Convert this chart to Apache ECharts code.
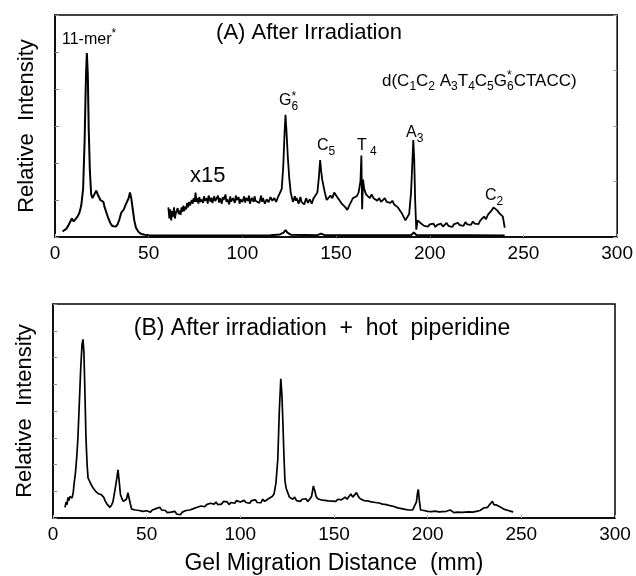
<!DOCTYPE html>
<html>
<head>
<meta charset="utf-8">
<script src="https://cdn.jsdelivr.net/npm/echarts@6/dist/echarts.min.js"></script>
<style>
  html, body { margin: 0; padding: 0; background: #fff; }
  #chart { width: 636px; height: 576px; }
</style>
</head>
<body>
<div id="chart"></div>
<script>
// x axis ticks (mm)
const xTicks = [0, 50, 100, 150, 200, 250, 300]

// (A) after irradiation, full scale trace [mm, intensity]
const traceA = [
  [4,0.15],[5,0.2],[6,0.22],[7,0.3],[8,0.4],[9,0.5],[10,0.42],[11,0.45],[12,0.55],[13,0.65],
  [14,0.85],[15,1.3],[15.8,2.6],[16.5,4.3],[17,4.97],[17.5,4.4],[18,2.9],[18.6,1.8],[19.3,1.15],
  [20,1.05],[21,1.1],[22,1.25],[22.8,1.15],[23.5,1.2],[24.2,1.0],[25,1.05],[25.8,0.95],[26.5,0.8],
  [27.5,0.65],[28.5,0.5],[29.5,0.38],[30.5,0.3],[31.5,0.27],[32.5,0.28],[33.5,0.35],[34.5,0.5],
  [35.3,0.65],[36,0.6],[36.8,0.75],[37.5,0.85],[38.5,0.9],[39.3,1.05],[40,1.2],[40.7,1.05],
  [41.5,0.75],[42.3,0.45],[43.2,0.25],[44.5,0.14],[46,0.08],[48,0.06],[50,0.05],[60,0.04],
  [80,0.04],[100,0.04],[115,0.05],[120,0.07],[122,0.12],[123,0.19],[124,0.12],[126,0.06],
  [140,0.05],[142,0.09],[144,0.05],[163,0.05],[164,0.08],[165,0.05],[190,0.05],[191.5,0.12],
  [193,0.05],[220,0.05],[240,0.04]
]

// (A) x15 expanded trace
const traceA15 = [
  [60.5,0.8],[61,0.5],[61.5,0.75],[62,0.45],[62.5,0.7],[63,0.55],[63.5,0.8],[64,0.5],[64.5,0.65],
  [65,0.6],[65.5,0.78],[66,0.62],[66.5,0.72],[67,0.6],[67.5,0.8],[68,0.68],[68.5,0.85],[69,0.7],
  [69.5,0.82],[70,0.75],[70.5,0.92],[71,0.8],[71.5,0.95],[72,0.85],[72.5,0.88],[73,1.0],[73.5,0.9],
  [74,1.05],[74.5,0.95],[75,1.2],[75.5,0.95],[76,1.05],[76.5,0.9],[77,1.08],[77.5,0.95],[78,1.02],
  [79,0.92],[79.5,1.1],[80,0.98],[81,1.05],[81.5,0.9],[82,1.12],[83,0.95],[83.5,1.06],[84,0.92],
  [85,1.1],[85.5,0.97],[86,1.0],[87,1.12],[87.5,0.93],[88,1.05],[89,0.9],[89.5,1.08],[90,1.0],
  [91,1.15],[91.5,0.95],[92,1.02],[93,0.88],[93.5,1.1],[94,0.96],[95,1.05],[96,0.92],[96.5,1.12],
  [97,1.0],[98,1.08],[98.5,0.9],[99,1.02],[100,0.95],[101,1.1],[101.5,0.93],[102,1.05],[103,0.98],
  [103.5,1.12],[104,0.9],[105,1.06],[106,0.95],[106.5,1.1],[107,0.98],[108,1.0],[109,0.92],
  [110,1.12],[110.5,0.95],[111,1.05],[112,0.9],[113,1.02],[114,0.94],[115,1.08],[116,0.98],
  [117,1.05],[118,0.95],[119,1.08],[120,1.1],[121,1.3],[121.8,1.9],[122.5,2.8],[123,3.3],
  [123.5,2.9],[124.2,2.2],[125,1.6],[125.8,1.2],[126.5,1.05],[127,0.95],[128,1.1],[128.5,0.98],
  [129,1.05],[130,0.9],[131,1.08],[131.5,0.95],[132,1.0],[133,0.88],[134,1.05],[135,0.92],
  [136,1.02],[137,0.9],[138,1.05],[139,1.0],[140,1.2],[140.8,1.6],[141.5,2.08],[142,1.8],
  [142.6,1.55],[143.3,1.5],[144,1.2],[145,1.0],[146,1.05],[147,1.12],[148,1.05],[149,1.2],
  [150,1.15],[151,1.05],[152,0.98],[153,0.9],[154,0.85],[155,0.8],[156,0.73],[157,0.85],[158,0.95],
  [159,1.05],[160,1.0],[161,1.1],[162,1.2],[163,1.5],[163.5,2.2],[163.9,0.75],[164.4,1.55],
  [165,1.3],[166,1.15],[167,1.2],[168,1.05],[169,1.15],[170,1.05],[171,1.1],[172,0.98],[173,1.05],
  [174,0.95],[175,1.0],[176,1.05],[177,0.95],[178,1.0],[179,0.92],[180,0.98],[181,0.88],[182,0.92],
  [183,0.8],[184,0.75],[185,0.65],[186,0.55],[187,0.45],[188,0.5],[189,0.62],[190,1.2],[190.7,2.0],
  [191.2,2.62],[191.7,2.1],[192.2,1.0],[192.8,0.2],[193.5,0.45],[194,0.5],[195,0.38],[196,0.42],
  [197,0.3],[198,0.35],[199,0.28],[200,0.34],[201,0.3],[202,0.36],[203,0.27],[204,0.33],[205,0.3],
  [206,0.36],[207,0.28],[208,0.32],[209,0.38],[210,0.3],[211,0.33],[212,0.27],[213,0.35],[214,0.3],
  [215,0.38],[216,0.32],[217,0.36],[218,0.3],[219,0.4],[220,0.34],[221,0.38],[222,0.33],[223,0.42],
  [224,0.36],[225,0.4],[226,0.35],[227,0.45],[228,0.5],[229,0.55],[230,0.48],[231,0.6],[232,0.65],
  [233,0.72],[234,0.8],[235,0.78],[236,0.72],[237,0.65],[238,0.7],[239,0.55],[240,0.25]
]

// (B) after irradiation + hot piperidine
const traceB = [
  [6.4,0.4],[7,0.6],[7.5,0.5],[8,0.77],[8.5,0.65],[9,0.8],[9.6,0.85],[10.2,0.75],[10.8,0.95],
  [11.2,1.25],[12,1.7],[12.7,2.3],[13.3,3.0],[14,4.2],[14.8,5.6],[15.5,6.5],[16,6.68],[16.5,6.2],
  [17,4.8],[17.6,3.0],[18.2,2.0],[18.7,1.5],[19.3,1.45],[20,1.3],[21,1.25],[21.6,1.1],[22.3,1.05],
  [23,0.98],[23.7,1.0],[24.4,0.9],[25,0.95],[25.6,0.88],[26.2,0.92],[27,0.78],[27.8,0.65],
  [28.8,0.52],[29.6,0.45],[30.4,0.4],[31.2,0.48],[32,0.6],[32.6,0.85],[33.2,1.1],[34,1.45],
  [34.7,1.8],[35.3,1.4],[36,0.88],[36.8,0.72],[37.6,0.62],[38.4,0.59],[39.2,0.7],[40,0.95],
  [40.6,0.88],[41.2,0.55],[42,0.33],[43,0.35],[44,0.3],[45,0.32],[46,0.28],[47,0.34],[48,0.25],
  [49,0.3],[50,0.27],[51,0.33],[52,0.22],[53,0.3],[54,0.26],[55,0.35],[56,0.28],[57,0.4],[58,0.3],
  [59,0.25],[60,0.28],[61,0.2],[62,0.27],[63,0.22],[64,0.18],[65,0.25],[66,0.15],[67,0.2],[68,0.12],
  [69,0.22],[70,0.18],[71,0.28],[72,0.22],[73,0.3],[74,0.25],[75,0.35],[76,0.3],[77,0.4],[78,0.35],
  [79,0.45],[80,0.38],[81,0.42],[82,0.5],[83,0.45],[84,0.55],[85,0.48],[86,0.52],[87,0.6],[88,0.5],
  [89,0.57],[90,0.52],[91,0.62],[92,0.55],[93,0.6],[94,0.5],[95,0.58],[96,0.62],[97,0.55],[98,0.65],
  [99,0.58],[100,0.6],[101,0.54],[102,0.66],[103,0.58],[104,0.62],[105,0.55],[106,0.65],[107,0.6],
  [108,0.68],[109,0.58],[110,0.63],[111,0.57],[112,0.7],[113,0.62],[114,0.66],[115,0.72],[116,0.68],
  [117,0.8],[118,0.9],[119,1.3],[120,2.2],[120.8,4.0],[121.6,5.2],[122.2,4.6],[122.7,3.6],
  [123.3,2.3],[123.8,1.4],[124.5,1.1],[125.5,1.03],[126.2,0.78],[127,0.85],[128,0.7],[129,0.78],
  [130,0.65],[131,0.72],[132,0.62],[133,0.7],[134,0.64],[135,0.72],[136,0.62],[137,0.7],[138,0.8],
  [139,1.2],[139.8,1.0],[140.5,0.8],[141.3,0.72],[142,0.78],[143,0.68],[144,0.74],[145,0.66],
  [146,0.7],[147,0.64],[148,0.7],[149,0.63],[150,0.68],[151,0.62],[152,0.7],[153,0.65],[154,0.68],
  [155,0.72],[156,0.78],[157,0.7],[158,0.8],[159,0.9],[160,0.78],[161,0.85],[162,0.95],[163,0.8],
  [164,0.72],[165,0.76],[166,0.65],[167,0.6],[168,0.64],[169,0.58],[170,0.6],[171,0.55],[172,0.58],
  [173,0.52],[174,0.56],[175,0.5],[176,0.52],[177,0.48],[178,0.5],[179,0.44],[180,0.46],[181,0.4],
  [182,0.43],[183,0.36],[184,0.38],[185,0.33],[186,0.35],[187,0.3],[188,0.32],[189,0.28],[190,0.3],
  [191,0.27],[192,0.3],[193,0.35],[194,0.6],[194.6,0.95],[195,1.07],[195.5,0.7],[196.2,0.3],
  [197,0.25],[198,0.28],[199,0.22],[200,0.25],[201,0.2],[202,0.24],[203,0.22],[204,0.26],[205,0.2],
  [206,0.23],[207,0.19],[208,0.24],[209,0.21],[210,0.25],[211,0.22],[212,0.3],[213,0.23],[214,0.2],
  [215,0.24],[216,0.22],[217,0.25],[218,0.21],[219,0.24],[220,0.22],[221,0.26],[222,0.23],[223,0.27],
  [224,0.22],[225,0.26],[226,0.25],[227,0.3],[228,0.28],[229,0.33],[230,0.38],[231,0.42],[232,0.4],
  [233,0.5],[234,0.55],[234.6,0.62],[235.3,0.5],[236,0.56],[237,0.48],[238,0.45],[239,0.4],
  [240,0.38],[241,0.32],[242,0.3],[243,0.28],[244,0.3],[245,0.24],[245.6,0.22]
]

const FONT = "Liberation Sans, Arial, sans-serif"

const chart = echarts.init(document.getElementById("chart"), null, { renderer: "canvas" })

// 量文字宽度，用来排下标/上标
const measureCtx = document.createElement("canvas").getContext("2d")
const textWidth = (text, size) => {
  measureCtx.font = `${size}px ${FONT}`
  return measureCtx.measureText(text).width
}

// parts: [text, kind]  kind: n 正文, s 下标, u 上标, su 上下标叠放
const chem = (x, y, parts, size) => {
  const small = Math.round(size * 0.72)
  const out = []
  let cx = x
  parts.forEach(([text, kind]) => {
    const fs = kind === "n" ? size : small
    const put = (t, dy, f) => out.push({
      type: "text", x: cx, y: y + dy,
      style: { text: t, fill: "#000", font: `${f}px ${FONT}`, textVerticalAlign: "middle" }
    })
    if (kind === "n") put(text, 0, size)
    if (kind === "s") put(text, size * 0.33, small)
    if (kind === "u") put(text, -size * 0.38, small)
    if (kind === "su") {
      put(text, size * 0.33, small)
      put("*", -size * 0.3, small)
    }
    cx += textWidth(text, fs)
  })
  return out
}

const xAxisBase = (gridIndex) => ({
  type: "value",
  gridIndex,
  min: 0,
  max: 300,
  interval: 50,
  axisLine: { show: true, lineStyle: { color: "#000", width: 1.5 } },
  axisTick: { show: true, inside: true, length: 3, lineStyle: { color: "#bbb" } },
  axisLabel: {
    color: "#000", fontFamily: FONT, fontSize: 19, margin: 7,
    formatter: (v) => xTicks.includes(v) ? String(v) : ""
  },
  splitLine: { show: false }
})

const yAxisLeft = (gridIndex, max) => ({
  type: "value",
  gridIndex,
  min: 0,
  max,
  interval: 1,
  name: "Relative  Intensity",
  nameLocation: "middle",
  nameRotate: 90,
  nameGap: 17,
  nameTextStyle: { color: "#000", fontFamily: FONT, fontSize: 22 },
  axisLine: { show: true, lineStyle: { color: "#000", width: 1.5 } },
  axisTick: { show: true, inside: true, length: 4, lineStyle: { color: "#888" } },
  axisLabel: { show: false },
  splitLine: { show: false }
})

const option = {
  animation: false,
  grid: [
    { left: 55, top: 15, width: 565, height: 222, show: true, borderColor: "#000", borderWidth: 1.5 },
    { left: 53, top: 304, width: 562, height: 217, show: true, borderColor: "#000", borderWidth: 1.5 }
  ],
  xAxis: [
    xAxisBase(0),
    Object.assign(xAxisBase(1), {
      name: "Gel Migration Distance  (mm)",
      nameLocation: "middle",
      nameGap: 34,
      nameTextStyle: { color: "#000", fontFamily: FONT, fontSize: 23, verticalAlign: "top" }
    })
  ],
  yAxis: [
    yAxisLeft(0, 6),
    {
      type: "value", gridIndex: 0, position: "right", min: 0, max: 4, interval: 1,
      axisLine: { show: false },
      axisTick: { show: true, inside: true, length: 4, lineStyle: { color: "#aaa" } },
      axisLabel: { show: false }, splitLine: { show: false }
    },
    yAxisLeft(1, 8)
  ],
  series: [
    {
      type: "line", xAxisIndex: 0, yAxisIndex: 0, data: traceA,
      showSymbol: false, lineStyle: { color: "#000", width: 2 }
    },
    {
      type: "line", xAxisIndex: 0, yAxisIndex: 0, data: traceA15,
      showSymbol: false, lineStyle: { color: "#000", width: 1.8 }
    },
    {
      type: "line", xAxisIndex: 1, yAxisIndex: 2, data: traceB,
      showSymbol: false, lineStyle: { color: "#000", width: 1.7 }
    }
  ],
  graphic: [
    { type: "text", x: 309, y: 33, style: { text: "(A) After Irradiation", fill: "#000", font: `22px ${FONT}`, textAlign: "center", textVerticalAlign: "middle" } },
    { type: "text", x: 322, y: 329, style: { text: "(B) After irradiation  +  hot  piperidine", fill: "#000", font: `23px ${FONT}`, textAlign: "center", textVerticalAlign: "middle" } },
    { type: "text", x: 190, y: 176, style: { text: "x15", fill: "#000", font: `22px ${FONT}`, textVerticalAlign: "middle" } },
    ...chem(62, 40, [["11-mer", "n"], ["*", "u"]], 16),
    ...chem(279, 101, [["G", "n"], ["6", "su"]], 16),
    ...chem(317, 146, [["C", "n"], ["5", "s"]], 16),
    ...chem(357, 146, [["T", "n"], [" 4", "s"]], 16),
    ...chem(406, 133, [["A", "n"], ["3", "s"]], 16),
    ...chem(485, 196, [["C", "n"], ["2", "s"]], 16),
    ...chem(382, 81, [
      ["d(C", "n"], ["1", "s"], ["C", "n"], ["2", "s"], [" A", "n"], ["3", "s"], ["T", "n"], ["4", "s"],
      ["C", "n"], ["5", "s"], ["G", "n"], ["6", "su"], ["CTACC)", "n"]
    ], 17)
  ]
}

chart.setOption(option)
</script>
</body>
</html>
